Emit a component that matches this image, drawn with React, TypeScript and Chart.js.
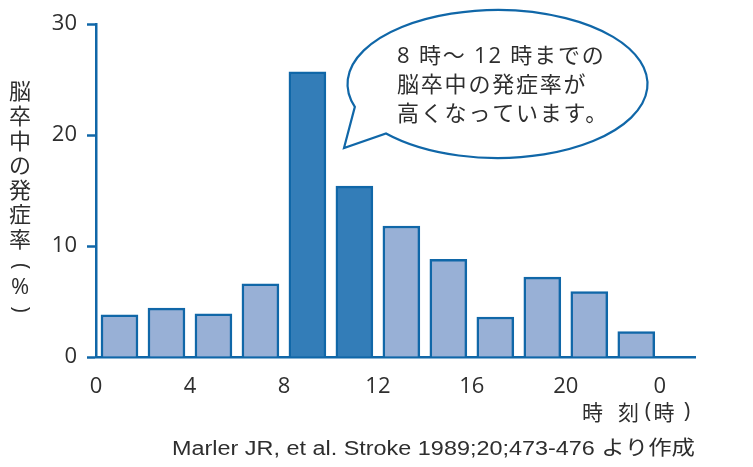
import React, { useEffect, useRef } from "react";
import { Chart, registerables } from "chart.js";

Chart.register(...registerables);

const hours = [1, 3, 5, 7, 9, 11, 13, 15, 17, 19, 21, 23];
const values = [3.8, 4.4, 3.9, 6.6, 25.7, 15.4, 11.8, 8.8, 3.6, 7.2, 5.9, 2.3];
const highlight = [false, false, false, false, true, true, false, false, false, false, false, false];
const xTicks = [0, 4, 8, 12, 16, 20, 24];
const xTickLabels = ["0", "4", "8", "12", "16", "20", "0"];
const yTitleChars = ["脳", "卒", "中", "の", "発", "症", "率", "(", "%", ")"];
const xTitleChars = ["時", "刻", "(", "時", ")"];
const sourceText = "Marler JR, et al. Stroke 1989;20;473-476 より作成";
const bubbleLines = ["8 時～ 12 時までの", "脳卒中の発症率が", "高くなっています。"];

const BLUE = "#1067a8";
const LIGHT = "#98b0d6";
const DARK = "#337db8";
const TEXT = "#2e2e2e";
const FONT = '"Open Sans", "Noto Sans CJK JP", sans-serif';
const JFONT = '"Noto Sans CJK JP", sans-serif';

const annotations = {
  id: "annotations",
  afterDraw(chart: any) {
    const ctx = chart.ctx as CanvasRenderingContext2D;
    ctx.save();
    // y title vertical
    ctx.fillStyle = TEXT;
    ctx.textAlign = "center";
    ctx.textBaseline = "middle";
    yTitleChars.forEach((ch, i) => {
      const y = 91 + i * 24.6;
      if (ch === "(" || ch === ")") {
        ctx.save();
        ctx.font = "22px " + FONT;
        ctx.translate(20, y + (ch === "(" ? 3 : -3));
        ctx.rotate(Math.PI / 2);
        ctx.fillText(ch, 0, 0);
        ctx.restore();
      } else if (ch === "%") {
        ctx.font = "22px " + FONT;
        ctx.fillText(ch, 20, y);
      } else {
        ctx.font = "22px " + JFONT;
        ctx.fillText(ch, 20, y);
      }
    });
    // x title, char by char
    const xPos = [592.5, 628.5, 648, 664, 687];
    xTitleChars.forEach((ch, i) => {
      ctx.font = (ch === "(" || ch === ")" ? "22px " + FONT : "21px " + JFONT);
      ctx.fillText(ch, xPos[i], 412);
    });
    // source: fit between 172 and 695
    ctx.textAlign = "right";
    ctx.font = '20px "Liberation Sans", "Noto Sans CJK JP", sans-serif';
    const w = ctx.measureText(sourceText).width;
    const target = 523;
    ctx.save();
    ctx.translate(695, 449);
    ctx.scale(target / w, 1);
    ctx.fillText(sourceText, 0, 0);
    ctx.restore();

    // bubble
    const cx = 497.5, cy = 84, rx = 150, ry = 74;
    const a1 = (162 * Math.PI) / 180;
    const a2 = (138 * Math.PI) / 180;
    ctx.beginPath();
    ctx.ellipse(cx, cy, rx, ry, 0, a1, a2, false);
    ctx.lineTo(344, 148);
    ctx.closePath();
    ctx.fillStyle = "#ffffff";
    ctx.fill();
    ctx.strokeStyle = BLUE;
    ctx.lineWidth = 2.2;
    ctx.lineJoin = "miter";
    ctx.stroke();

    ctx.fillStyle = TEXT;
    ctx.textAlign = "left";
    ctx.font = "22px " + FONT;
    (ctx as any).letterSpacing = "1.8px";
    bubbleLines.forEach((line, i) => {
      ctx.fillText(line, 397, 57 + i * 29);
    });
    (ctx as any).letterSpacing = "0px";
    ctx.restore();
  },
};

export default function App() {
  const ref = useRef<HTMLCanvasElement>(null);
  useEffect(() => {
    if (!ref.current) return;
    const chart = new Chart(ref.current, {
      type: "bar",
      data: {
        datasets: [
          {
            data: hours.map((h, i) => ({ x: h, y: values[i] })),
            backgroundColor: highlight.map((h) => (h ? DARK : LIGHT)),
            borderColor: BLUE,
            borderWidth: 2.5,
            barThickness: 37,
          } as any,
        ],
      },
      options: {
        responsive: false,
        animation: false,
        devicePixelRatio: 1,
        layout: { padding: { top: 24, right: 58, left: 0, bottom: 0 } },
        plugins: { legend: { display: false }, tooltip: { enabled: false } },
        scales: {
          x: {
            type: "linear",
            offset: false,
            min: 0,
            max: 25.5,
            afterFit: (s: any) => {
              s.height = 110;
            },
            afterBuildTicks: (s: any) => {
              s.ticks = xTicks.map((v) => ({ value: v }));
            },
            ticks: {
              autoSkip: false,
              maxRotation: 0,
              padding: 9,
              color: TEXT,
              font: { family: FONT, size: 22 },
              callback: (v: any) => {
                const i = xTicks.indexOf(Number(v));
                return i >= 0 ? xTickLabels[i] : "";
              },
            },
            grid: { display: false },
            border: { color: BLUE, width: 2.5 },
          },
          y: {
            min: 0,
            max: 30,
            afterFit: (s: any) => {
              s.width = 96;
            },
            ticks: {
              stepSize: 10,
              padding: 10,
              color: TEXT,
              font: { family: FONT, size: 22 },
            },
            grid: {
              drawOnChartArea: false,
              drawTicks: true,
              tickLength: 9,
              tickColor: BLUE,
              tickWidth: 2.5,
            },
            border: { color: BLUE, width: 2.5 },
          },
        },
      },
      plugins: [annotations],
    });
    return () => chart.destroy();
  }, []);
  return (
    <div style={{ position: "fixed", left: 0, top: 0, width: 753, height: 467, background: "#fff" }}>
      <canvas ref={ref} width={753} height={467} />
    </div>
  );
}
